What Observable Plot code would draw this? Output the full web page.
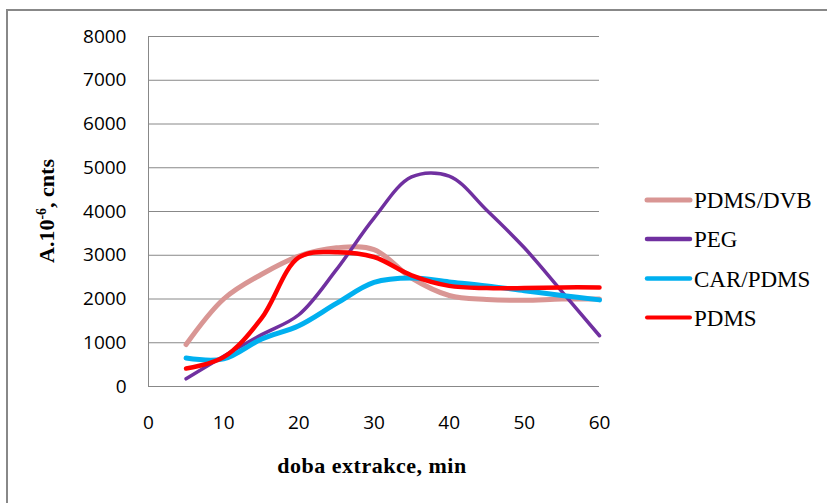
<!DOCTYPE html>
<html>
<head>
<meta charset="utf-8">
<script src="https://cdn.jsdelivr.net/npm/d3@7"></script>
<script src="https://cdn.jsdelivr.net/npm/@observablehq/plot@0.6"></script>
<style>
  html, body { margin: 0; padding: 0; background: #fff; }
  #chart { width: 827px; height: 503px; overflow: hidden; }
  .serif { font-family: "Liberation Serif", "Times New Roman", serif !important; }
</style>
</head>
<body>
<div id="chart"></div>
<script>
// ---- data ----
const minutes  = [5, 10, 15, 20, 25, 30, 35, 40, 45, 50, 55, 60];
const pdmsDvb  = [960, 2000, 2560, 2980, 3170, 3130, 2480, 2080, 1990, 1970, 2000, 2000];
const peg      = [175, 690, 1180, 1640, 2670, 3850, 4790, 4810, 4030, 3170, 2170, 1160];
const carPdms  = [650, 630, 1080, 1390, 1900, 2380, 2480, 2390, 2300, 2190, 2080, 1980];
const pdms     = [410, 670, 1550, 2950, 3070, 2960, 2540, 2300, 2250, 2250, 2265, 2265];
const seriesNames  = ["PDMS/DVB", "PEG", "CAR/PDMS", "PDMS"];
const seriesValues = [pdmsDvb, peg, carPdms, pdms];
const seriesColors = ["#D99694", "#7030A0", "#00B0F0", "#FF0000"];
const seriesWidths = [5, 3.5, 5, 4.5];
const xTicks = [0, 10, 20, 30, 40, 50, 60];
const yTicks = [0, 1000, 2000, 3000, 4000, 5000, 6000, 7000, 8000];
const xTitle = "doba extrakce, min";

const rows = seriesNames.flatMap((name, i) =>
  minutes.map((m, j) => ({series: name, x: m, y: seriesValues[i][j]})));

const grid = "#888888";
const svg = Plot.plot({
  width: 827,
  height: 503,
  marginLeft: 148,
  marginRight: 228,
  marginTop: 36,
  marginBottom: 117,
  style: {fontFamily: "'Open Sans', sans-serif", fontSize: "19px", color: "#000", background: "#fff", overflow: "visible"},
  x: {domain: [0, 60]},
  y: {domain: [0, 8000]},
  marks: [
    Plot.gridY(yTicks, {stroke: grid, strokeOpacity: 1, strokeWidth: 1}),
    Plot.ruleX([0], {stroke: grid, strokeWidth: 1}),
    Plot.axisY({ticks: yTicks, tickSize: 0, tickPadding: 22, label: null, tickFormat: d => String(d)}),
    Plot.axisX({ticks: xTicks, tickSize: 0, tickPadding: 29, label: null, tickFormat: d => String(d)}),
    ...seriesNames.map((name, i) =>
      Plot.line(rows.filter(r => r.series === name), {
        x: "x", y: "y", stroke: seriesColors[i], strokeWidth: seriesWidths[i],
        curve: "catmull-rom", strokeLinecap: "round", strokeLinejoin: "round"
      }))
  ]
});

const s = d3.select(svg);
// outer frame
s.insert("rect", ":first-child")
  .attr("x", 7).attr("y", 10).attr("width", 900).attr("height", 600)
  .attr("fill", "none").attr("stroke", grid).attr("stroke-width", 2);

// x title
s.append("text")
  .attr("class", "serif")
  .attr("x", 372).attr("y", 473)
  .style("text-anchor", "middle")
  .style("letter-spacing", "0.5px")
  .style("font-weight", "bold").style("font-size", "22px")
  .text(xTitle);

// y title with superscript
const yt = s.append("text")
  .attr("class", "serif")
  .attr("transform", "translate(54,211) rotate(-90)")
  .style("text-anchor", "middle")
  .style("font-weight", "bold").style("font-size", "22px");
yt.append("tspan").text("A.10");
yt.append("tspan").style("font-size", "14px").attr("dy", -8).text("-6");
yt.append("tspan").attr("dy", 8).text(", cnts");

// legend
const legendY = [200, 239, 278.5, 317.5];
const legendW = [5, 4.5, 4.5, 4];
seriesNames.forEach((name, i) => {
  const g = s.append("g");
  g.append("line").attr("x1", 647).attr("x2", 690)
    .attr("y1", legendY[i]).attr("y2", legendY[i])
    .attr("stroke", seriesColors[i]).attr("stroke-width", legendW[i])
    .attr("stroke-linecap", "round");
  g.append("text").attr("class", "serif")
    .attr("x", 694).attr("y", legendY[i])
    .attr("dy", "0.35em")
    .style("text-anchor", "start")
    .style("font-size", "23px")
    .text(name);
});

document.getElementById("chart").appendChild(svg);
</script>
</body>
</html>
